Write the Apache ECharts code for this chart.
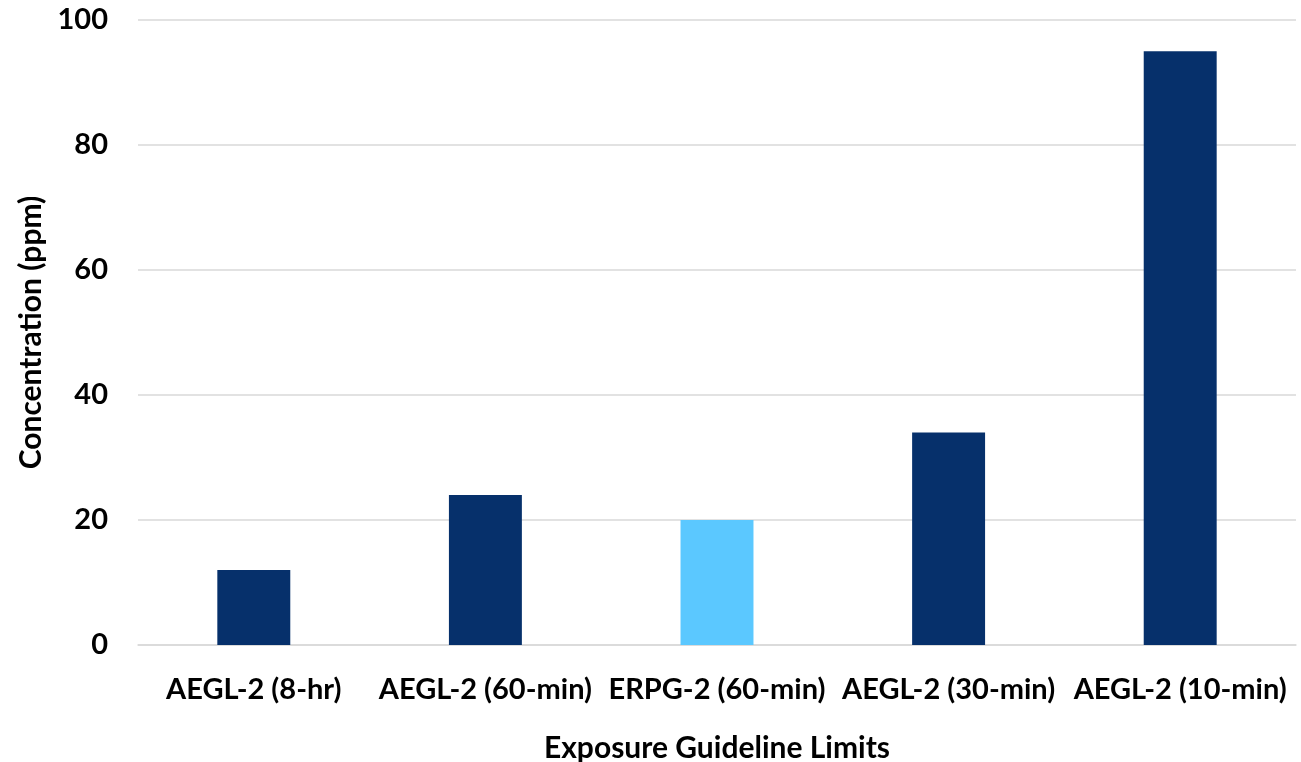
<!DOCTYPE html>
<html>
<head>
<meta charset="utf-8">
<script src="https://cdn.jsdelivr.net/npm/echarts@6/dist/echarts.min.js"></script>
<style>html,body{margin:0;padding:0;background:#fff;}#c{width:1301px;height:762px;}</style>
</head>
<body>
<div id="c"></div>
<script>
const categories = ['AEGL-2 (8-hr)', 'AEGL-2 (60-min)', 'ERPG-2 (60-min)', 'AEGL-2 (30-min)', 'AEGL-2 (10-min)'];
const values = [12, 24, 20, 34, 95];
const barColors = ['#06306B', '#06306B', '#5BC8FF', '#06306B', '#06306B'];
const yTicks = [0, 20, 40, 60, 80, 100];

const font = 'Lato, "Open Sans", sans-serif';
const fs = 29;
const fsName = 30;
const chart = echarts.init(document.getElementById('c'));
chart.setOption({
  animation: false,
  backgroundColor: '#fff',
  grid: { left: 138, right: 5, top: 20, bottom: 117, containLabel: false, outerBoundsMode: 'none' },
  xAxis: {
    type: 'category',
    data: categories,
    name: 'Exposure Guideline Limits',
    nameLocation: 'middle',
    nameGap: 88,
    nameTextStyle: { fontFamily: font, fontWeight: 'bold', fontSize: fsName, color: '#000' },
    axisLine: { lineStyle: { color: '#d9d9d9', width: 1.5 } },
    axisTick: { show: false },
    axisLabel: { fontFamily: font, fontWeight: 'bold', fontSize: fs, color: '#000', margin: 30, interval: 0 }
  },
  yAxis: {
    type: 'value',
    min: yTicks[0],
    max: yTicks[yTicks.length - 1],
    interval: 20,
    name: 'Concentration (ppm)',
    nameLocation: 'middle',
    nameGap: 89,
    nameRotate: 90,
    nameTextStyle: { fontFamily: font, fontWeight: 'bold', fontSize: fsName, color: '#000' },
    axisLine: { show: false },
    axisTick: { show: false },
    splitLine: { lineStyle: { color: '#d9d9d9', width: 1.5 } },
    axisLabel: { fontFamily: font, fontWeight: 'bold', fontSize: fs, color: '#000', margin: 30 }
  },
  series: [{
    type: 'bar',
    barWidth: '31.5%',
    data: values.map((v, i) => ({ value: v, itemStyle: { color: barColors[i] } }))
  }]
});
</script>
</body>
</html>
